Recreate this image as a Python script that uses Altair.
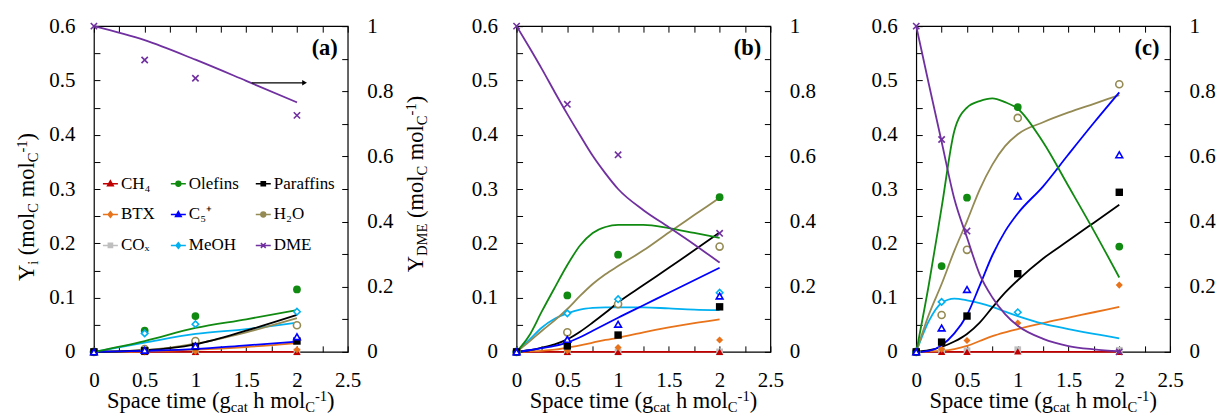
import altair as alt
import pandas as pd

SERIF = "'Liberation Serif', 'Times New Roman', Times, serif"

SERIES = ["CH4", "Olefins", "Paraffins", "BTX", "C5+", "H2O", "COx", "MeOH", "DME"]
LEGEND_LABELS = ["CH₄", "Olefins", "Paraffins", "BTX", "C₅⁺", "H₂O", "COₓ", "MeOH", "DME"]

# ---------------- panel (a) ----------------
A_PTS_X = [0, 0.5, 1, 2]
A_PTS = {
    "CH4": [0, 0, 0, 0],
    "BTX": [0, 0, 0.001, 0.004],
    "COx": [0, 0, 0, 0],
    "Olefins": [0, 0.039, 0.066, 0.115],
    "C5+": [0, 0.003, 0.011, 0.028],
    "MeOH": [0, 0.034, 0.051, 0.074],
    "Paraffins": [0, 0.002, 0.010, 0.020],
    "H2O": [0, 0.005, 0.020, 0.049],
    "DME": [1.0, 0.896, 0.840, 0.726],
}
A_LINE_X = [0, 0.5, 1, 1.5, 2]
A_LINES = {
    "CH4": [0, 0, 0, 0, 0],
    "BTX": [0, 0.001, 0.004, 0.009, 0.016],
    "COx": [0, 0, 0, 0, 0],
    "Olefins": [0, 0.020, 0.044, 0.060, 0.077],
    "C5+": [0, 0.002, 0.005, 0.012, 0.019],
    "MeOH": [0, 0.017, 0.033, 0.042, 0.054],
    "Paraffins": [0, 0.003, 0.014, 0.039, 0.068],
    "H2O": [0, 0.003, 0.015, 0.036, 0.062],
    "DME": [1.0, 0.957, 0.897, 0.832, 0.766],
}

# ---------------- panel (b) ----------------
B_PTS_X = [0, 0.5, 1, 2]
B_PTS = {
    "CH4": [0, 0, 0, 0],
    "BTX": [0, 0.002, 0.008, 0.022],
    "COx": [0, 0, 0, 0],
    "Olefins": [0, 0.104, 0.179, 0.285],
    "C5+": [0, 0.023, 0.051, 0.103],
    "MeOH": [0, 0.071, 0.097, 0.109],
    "Paraffins": [0, 0.011, 0.031, 0.083],
    "H2O": [0, 0.036, 0.088, 0.194],
    "DME": [1.0, 0.760, 0.605, 0.364],
}
B_LINE_X = [0, 0.125, 0.25, 0.375, 0.5, 0.625, 0.75, 0.875, 1, 1.25, 1.5, 1.75, 2]
B_LINES = {
    "CH4": [0] * 13,
    "BTX": [0, 0.001, 0.002, 0.004, 0.008, 0.012, 0.017, 0.022, 0.026, 0.036, 0.045, 0.053, 0.060],
    "COx": [0] * 13,
    "Olefins": [0, 0.030, 0.075, 0.118, 0.160, 0.196, 0.219, 0.230, 0.234, 0.234, 0.228, 0.219, 0.210],
    "C5+": [0, 0.003, 0.007, 0.011, 0.017, 0.027, 0.039, 0.051, 0.063, 0.086, 0.109, 0.132, 0.155],
    "MeOH": [0, 0.022, 0.045, 0.061, 0.071, 0.078, 0.081, 0.082, 0.082, 0.082, 0.080, 0.078, 0.077],
    "Paraffins": [0, 0.003, 0.008, 0.014, 0.023, 0.037, 0.054, 0.072, 0.091, 0.123, 0.155, 0.187, 0.220],
    "H2O": [0, 0.019, 0.039, 0.058, 0.079, 0.103, 0.125, 0.143, 0.158, 0.187, 0.220, 0.252, 0.284],
    "DME": [1.0, 0.935, 0.868, 0.798, 0.730, 0.665, 0.602, 0.548, 0.500, 0.435, 0.383, 0.330, 0.274],
}

# ---------------- panel (c) ----------------
C_PTS_X = [0, 0.25, 0.5, 1, 2]
C_PTS = {
    "CH4": [0, 0, 0, 0.001, 0],
    "BTX": [0, 0.005, 0.021, 0.053, 0.123],
    "COx": [0, 0.002, 0.002, 0.004, 0.003],
    "Olefins": [0, 0.158, 0.284, 0.451, 0.194],
    "C5+": [0, 0.044, 0.115, 0.287, 0.363],
    "MeOH": [0, 0.092, None, 0.073, None],
    "Paraffins": [0, 0.018, 0.066, 0.144, 0.294],
    "H2O": [0, 0.068, 0.188, 0.431, 0.493],
    "DME": [1.0, 0.652, 0.371, None, 0.0],
}
C_LINE_X = [0, 0.125, 0.25, 0.375, 0.5, 0.625, 0.75, 0.875, 1, 1.25, 1.5, 1.75, 2]
C_LINES = {
    "CH4": [0] * 13,
    "BTX": [0, 0.001, 0.002, 0.005, 0.011, 0.020, 0.029, 0.036, 0.042, 0.053, 0.063, 0.073, 0.083],
    "COx": [0] * 13,
    "Olefins": [0, 0.125, 0.266, 0.407, 0.450, 0.462, 0.467, 0.460, 0.448, 0.386, 0.305, 0.223, 0.137],
    "C5+": [0, 0.002, 0.012, 0.034, 0.068, 0.122, 0.178, 0.222, 0.255, 0.305, 0.364, 0.422, 0.478],
    "MeOH": [0, 0.057, 0.090, 0.098, 0.095, 0.090, 0.083, 0.074, 0.066, 0.052, 0.042, 0.033, 0.025],
    "Paraffins": [0, 0.003, 0.009, 0.019, 0.033, 0.054, 0.082, 0.109, 0.132, 0.172, 0.205, 0.238, 0.271],
    "H2O": [0, 0.069, 0.125, 0.186, 0.241, 0.299, 0.345, 0.379, 0.401, 0.423, 0.441, 0.457, 0.473],
    "DME": [1.0, 0.821, 0.645, 0.470, 0.351, 0.238, 0.167, 0.116, 0.080, 0.040, 0.018, 0.008, 0.002],
}

# arrow annotation in panel (a): points from the DME curve to the right axis
ARROW_X = [1.555, 2.075]
ARROW_Y = 0.826

PANEL_TAGS = ["(a)", "(b)", "(c)"]

# ---------------- styles ----------------
COLOR = {
    "CH4": "#c00000", "BTX": "#e8731a", "COx": "#bfbfbf",
    "Olefins": "#108a10", "C5+": "#0000ff", "MeOH": "#00b0f0",
    "Paraffins": "#000000", "H2O": "#948a54", "DME": "#7030a0",
}
X_PATH = "M-1,-1L1,1M-1,1L1,-1"
MARKER = {  # shape, open?, size
    "CH4": ("triangle-up", False, 55),
    "BTX": ("diamond", False, 50),
    "COx": ("square", False, 45),
    "Olefins": ("circle", False, 60),
    "C5+": ("triangle-up", True, 45),
    "MeOH": ("diamond", True, 42),
    "Paraffins": ("square", False, 55),
    "H2O": ("circle", True, 50),
    "DME": (X_PATH, None, 40),
}
LEG_PATH = {
    "tri": "M-1,0H1M0,-0.4L0.38,0.28L-0.38,0.28Z",
    "circ": "M-1,0H1M0.32,0A0.32,0.32,0,1,1,-0.32,0A0.32,0.32,0,1,1,0.32,0Z",
    "sq": "M-1,0H1M-0.28,-0.28H0.28V0.28H-0.28Z",
    "dia": "M-1,0H1M0,-0.38L0.3,0L0,0.38L-0.3,0Z",
    "x": "M-1,0H1M-0.32,-0.32L0.32,0.32M-0.32,0.32L0.32,-0.32",
}
LEG_SHAPE = {"CH4": "tri", "Olefins": "circ", "Paraffins": "sq", "BTX": "dia", "C5+": "tri",
             "H2O": "circ", "COx": "sq", "MeOH": "dia", "DME": "x"}

LINE_ORDER = ["COx", "CH4", "BTX", "MeOH", "H2O", "Paraffins", "C5+", "Olefins"]
POINT_ORDER = ["COx", "CH4", "BTX", "Olefins", "H2O", "MeOH", "Paraffins", "C5+"]

W, H = 254, 326
LW = 1.8

# Times / Liberation Serif advance widths (per 1000 em)
CW = {"S": 556, "p": 500, "a": 444, "c": 444, "e": 444, " ": 250, "t": 278, "i": 278,
      "m": 778, "(": 333, ")": 333, "g": 500, "h": 500, "o": 500, "l": 278, "C": 667,
      "-": 333, "1": 500, "Y": 722, "D": 722, "M": 889, "E": 611}
T_MAIN = 22.5
T_SMALL = 14.6
SUB_DY = 4.5
SUP_DY = -7


def twidth(s, size):
    return sum(CW[ch] for ch in s) * size / 1000.0


ONE = pd.DataFrame({"k": [0]})

X_TICKS = [i * 0.25 for i in range(11)]
Y_TICKS = [round(i * 0.05, 2) for i in range(13)]
YR_TICKS = [round(i * 0.1, 1) for i in range(11)]

XS = alt.Scale(domain=[0, 2.5], nice=False, zero=False)
YS = alt.Scale(domain=[0, 0.6], nice=False)
YRS = alt.Scale(domain=[0, 1], nice=False)

AX_BOTTOM = alt.Axis(orient="bottom", values=X_TICKS, title=None, domain=False, grid=False,
                     offset=-6, tickSize=6, labelPadding=18, labelFlush=False, labelOverlap=False,
                     labelExpr="round(datum.value*100) % 50 === 0 ? format(datum.value, '~g') : ''")
AX_TOP = alt.Axis(orient="top", values=X_TICKS, title=None, domain=False, grid=False,
                  offset=-6, tickSize=6, labels=False)
AX_LEFT = alt.Axis(orient="left", values=Y_TICKS, title=None, domain=False, grid=False,
                   offset=-6, tickSize=6, labelPadding=19, labelFlush=False, labelOverlap=False,
                   labelExpr="round(datum.value*100) % 10 === 0 ? format(datum.value, '.1~f') : ''")
AX_RIGHT = alt.Axis(orient="right", values=YR_TICKS, title=None, domain=False, grid=False,
                    offset=-6, tickSize=6, labelPadding=19, labelFlush=False, labelOverlap=False,
                    labelExpr="round(datum.value*10) % 2 === 0 ? format(datum.value, '~g') : ''")


def sdf(xs, ys):
    return pd.DataFrame([{"x": x, "y": y} for x, y in zip(xs, ys) if y is not None])


def point_layer(df, s, xenc, yenc):
    shape, is_open, size = MARKER[s]
    c = COLOR[s]
    if is_open is None:
        m = alt.Chart(df).mark_point(shape=shape, filled=False, color=c, strokeWidth=1.6,
                                     size=size, opacity=1)
    elif is_open:
        m = alt.Chart(df).mark_point(shape=shape, filled=True, fill="white", stroke=c,
                                     strokeWidth=1.6, size=size, opacity=1)
    else:
        m = alt.Chart(df).mark_point(shape=shape, filled=True, color=c, size=size, opacity=1)
    return m.encode(x=xenc, y=yenc)


def rich_text(segments, x0, y0, angle=0):
    """Draw a run of text pieces (normal / subscript / superscript) one after another.
    SVG drops leading blanks, so they are turned into an offset."""
    out = []
    off = 0.0
    for text, kind in segments:
        size = T_MAIN if kind == "n" else T_SMALL
        dy = {"n": 0, "sub": SUB_DY, "sup": SUP_DY}[kind]
        stripped = text.lstrip(" ")
        lead = twidth(text[: len(text) - len(stripped)], size)
        kw = dict(text=stripped, font=SERIF, fontSize=size, align="left", baseline="alphabetic",
                  dx=off + lead, dy=dy, color="black")
        if angle:
            kw["angle"] = angle
        out.append(alt.Chart(ONE).mark_text(**kw).encode(x=alt.value(x0), y=alt.value(y0)))
        off += twidth(text, size)
    return out


def centered_rich(segments, center, fixed, angle=0):
    total = sum(twidth(t, T_MAIN if k == "n" else T_SMALL) for t, k in segments)
    if angle:
        return rich_text(segments, fixed, center + total / 2, angle)
    return rich_text(segments, center - total / 2, fixed, angle)


XTITLE = [("Space time (g", "n"), ("cat", "sub"), (" h mol", "n"), ("C", "sub"),
          ("-1", "sup"), (")", "n")]
YTITLE = [("Y", "n"), ("i", "sub"), (" (mol", "n"), ("C", "sub"), (" mol", "n"),
          ("C", "sub"), ("-1", "sup"), (")", "n")]
YRTITLE = [("Y", "n"), ("DME", "sub"), (" (mol", "n"), ("C", "sub"), (" mol", "n"),
           ("C", "sub"), ("-1", "sup"), (")", "n")]


def panel(idx, pts_x, pts, line_x, lines):
    xenc = alt.X("x:Q", scale=XS, axis=AX_BOTTOM)
    yenc = alt.Y("y:Q", scale=YS, axis=AX_LEFT)
    left = []
    for s in LINE_ORDER:
        left.append(alt.Chart(sdf(line_x, lines[s])).mark_line(
            color=COLOR[s], strokeWidth=LW, interpolate="monotone").encode(x=xenc, y=yenc))
    for s in POINT_ORDER:
        left.append(point_layer(sdf(pts_x, pts[s]), s, xenc, yenc))
    left.append(alt.Chart(ONE).mark_text(text=PANEL_TAGS[idx], font=SERIF, fontSize=22.5,
                                         fontWeight="bold", align="center", baseline="middle",
                                         color="black").encode(x=alt.value(231), y=alt.value(22)))
    left += centered_rich(XTITLE, W / 2, H + 56)
    if idx == 0:
        left += centered_rich(YTITLE, 181, -60, angle=270)
        left += centered_rich(YRTITLE, 158, W + 75, angle=270)
        leg = alt.Legend(title=None, orient="none", legendX=8, legendY=149, columns=3,
                         direction="horizontal", symbolSize=225, symbolStrokeWidth=1.5,
                         labelFont=SERIF, labelFontSize=17, labelColor="black", labelOffset=2,
                         columnPadding=13, rowPadding=13, padding=0, labelLimit=0)
        leg_df = pd.DataFrame({"label": LEGEND_LABELS})
        cols = [COLOR[s] for s in SERIES]
        paths = [LEG_PATH[LEG_SHAPE[s]] for s in SERIES]
        left.append(alt.Chart(leg_df).transform_filter("false").mark_point(
            filled=True, opacity=1).encode(
            fill=alt.Fill("label:N", scale=alt.Scale(domain=LEGEND_LABELS, range=cols), legend=leg),
            stroke=alt.Stroke("label:N", scale=alt.Scale(domain=LEGEND_LABELS, range=cols), legend=leg),
            shape=alt.Shape("label:N", scale=alt.Scale(domain=LEGEND_LABELS, range=paths), legend=leg),
        ))
    left_group = alt.layer(*left)

    xt = alt.X("x:Q", scale=XS, axis=AX_TOP)
    yr = alt.Y("y:Q", scale=YRS, axis=AX_RIGHT)
    right = [
        alt.Chart(sdf(line_x, lines["DME"])).mark_line(
            color=COLOR["DME"], strokeWidth=LW, interpolate="monotone").encode(x=xt, y=yr),
        point_layer(sdf(pts_x, pts["DME"]), "DME", xt, yr),
    ]
    if idx == 0:
        adf = pd.DataFrame({"x": [ARROW_X[0]], "x2": [ARROW_X[1]], "y": [ARROW_Y]})
        right.append(alt.Chart(adf).mark_rule(color="black", strokeWidth=1.2).encode(
            x=xt, x2="x2:Q", y=yr))
        right.append(alt.Chart(adf).mark_point(shape="triangle-right", filled=True, color="black",
                                               size=30, opacity=1).encode(
            x=alt.X("x2:Q", scale=XS, axis=AX_TOP), y=yr))
    right_group = alt.layer(*right)
    return alt.layer(left_group, right_group).resolve_scale(
        x="independent", y="independent").properties(width=W, height=H)


def spacer(w):
    return alt.Chart(ONE).mark_point(opacity=0).encode(
        x=alt.X("k:Q", axis=None), y=alt.Y("k:Q", axis=None)
    ).properties(width=w, height=H, view=alt.ViewBackground(stroke=None))


pa = panel(0, A_PTS_X, A_PTS, A_LINE_X, A_LINES)
pb = panel(1, B_PTS_X, B_PTS, B_LINE_X, B_LINES)
pc = panel(2, C_PTS_X, C_PTS, C_LINE_X, C_LINES)

chart = alt.hconcat(pa, spacer(169), pb, spacer(146), pc, spacing=0, bounds="flush").properties(
    padding={"left": 14, "top": 14, "right": 0, "bottom": 0},
    background="white",
).configure_axis(
    labelFont=SERIF, labelFontSize=21, labelColor="black", tickColor="black", tickWidth=1,
).configure_view(stroke="black", strokeWidth=1.2)

chart.save("out.html", embed_options={"renderer": "svg", "actions": False})
